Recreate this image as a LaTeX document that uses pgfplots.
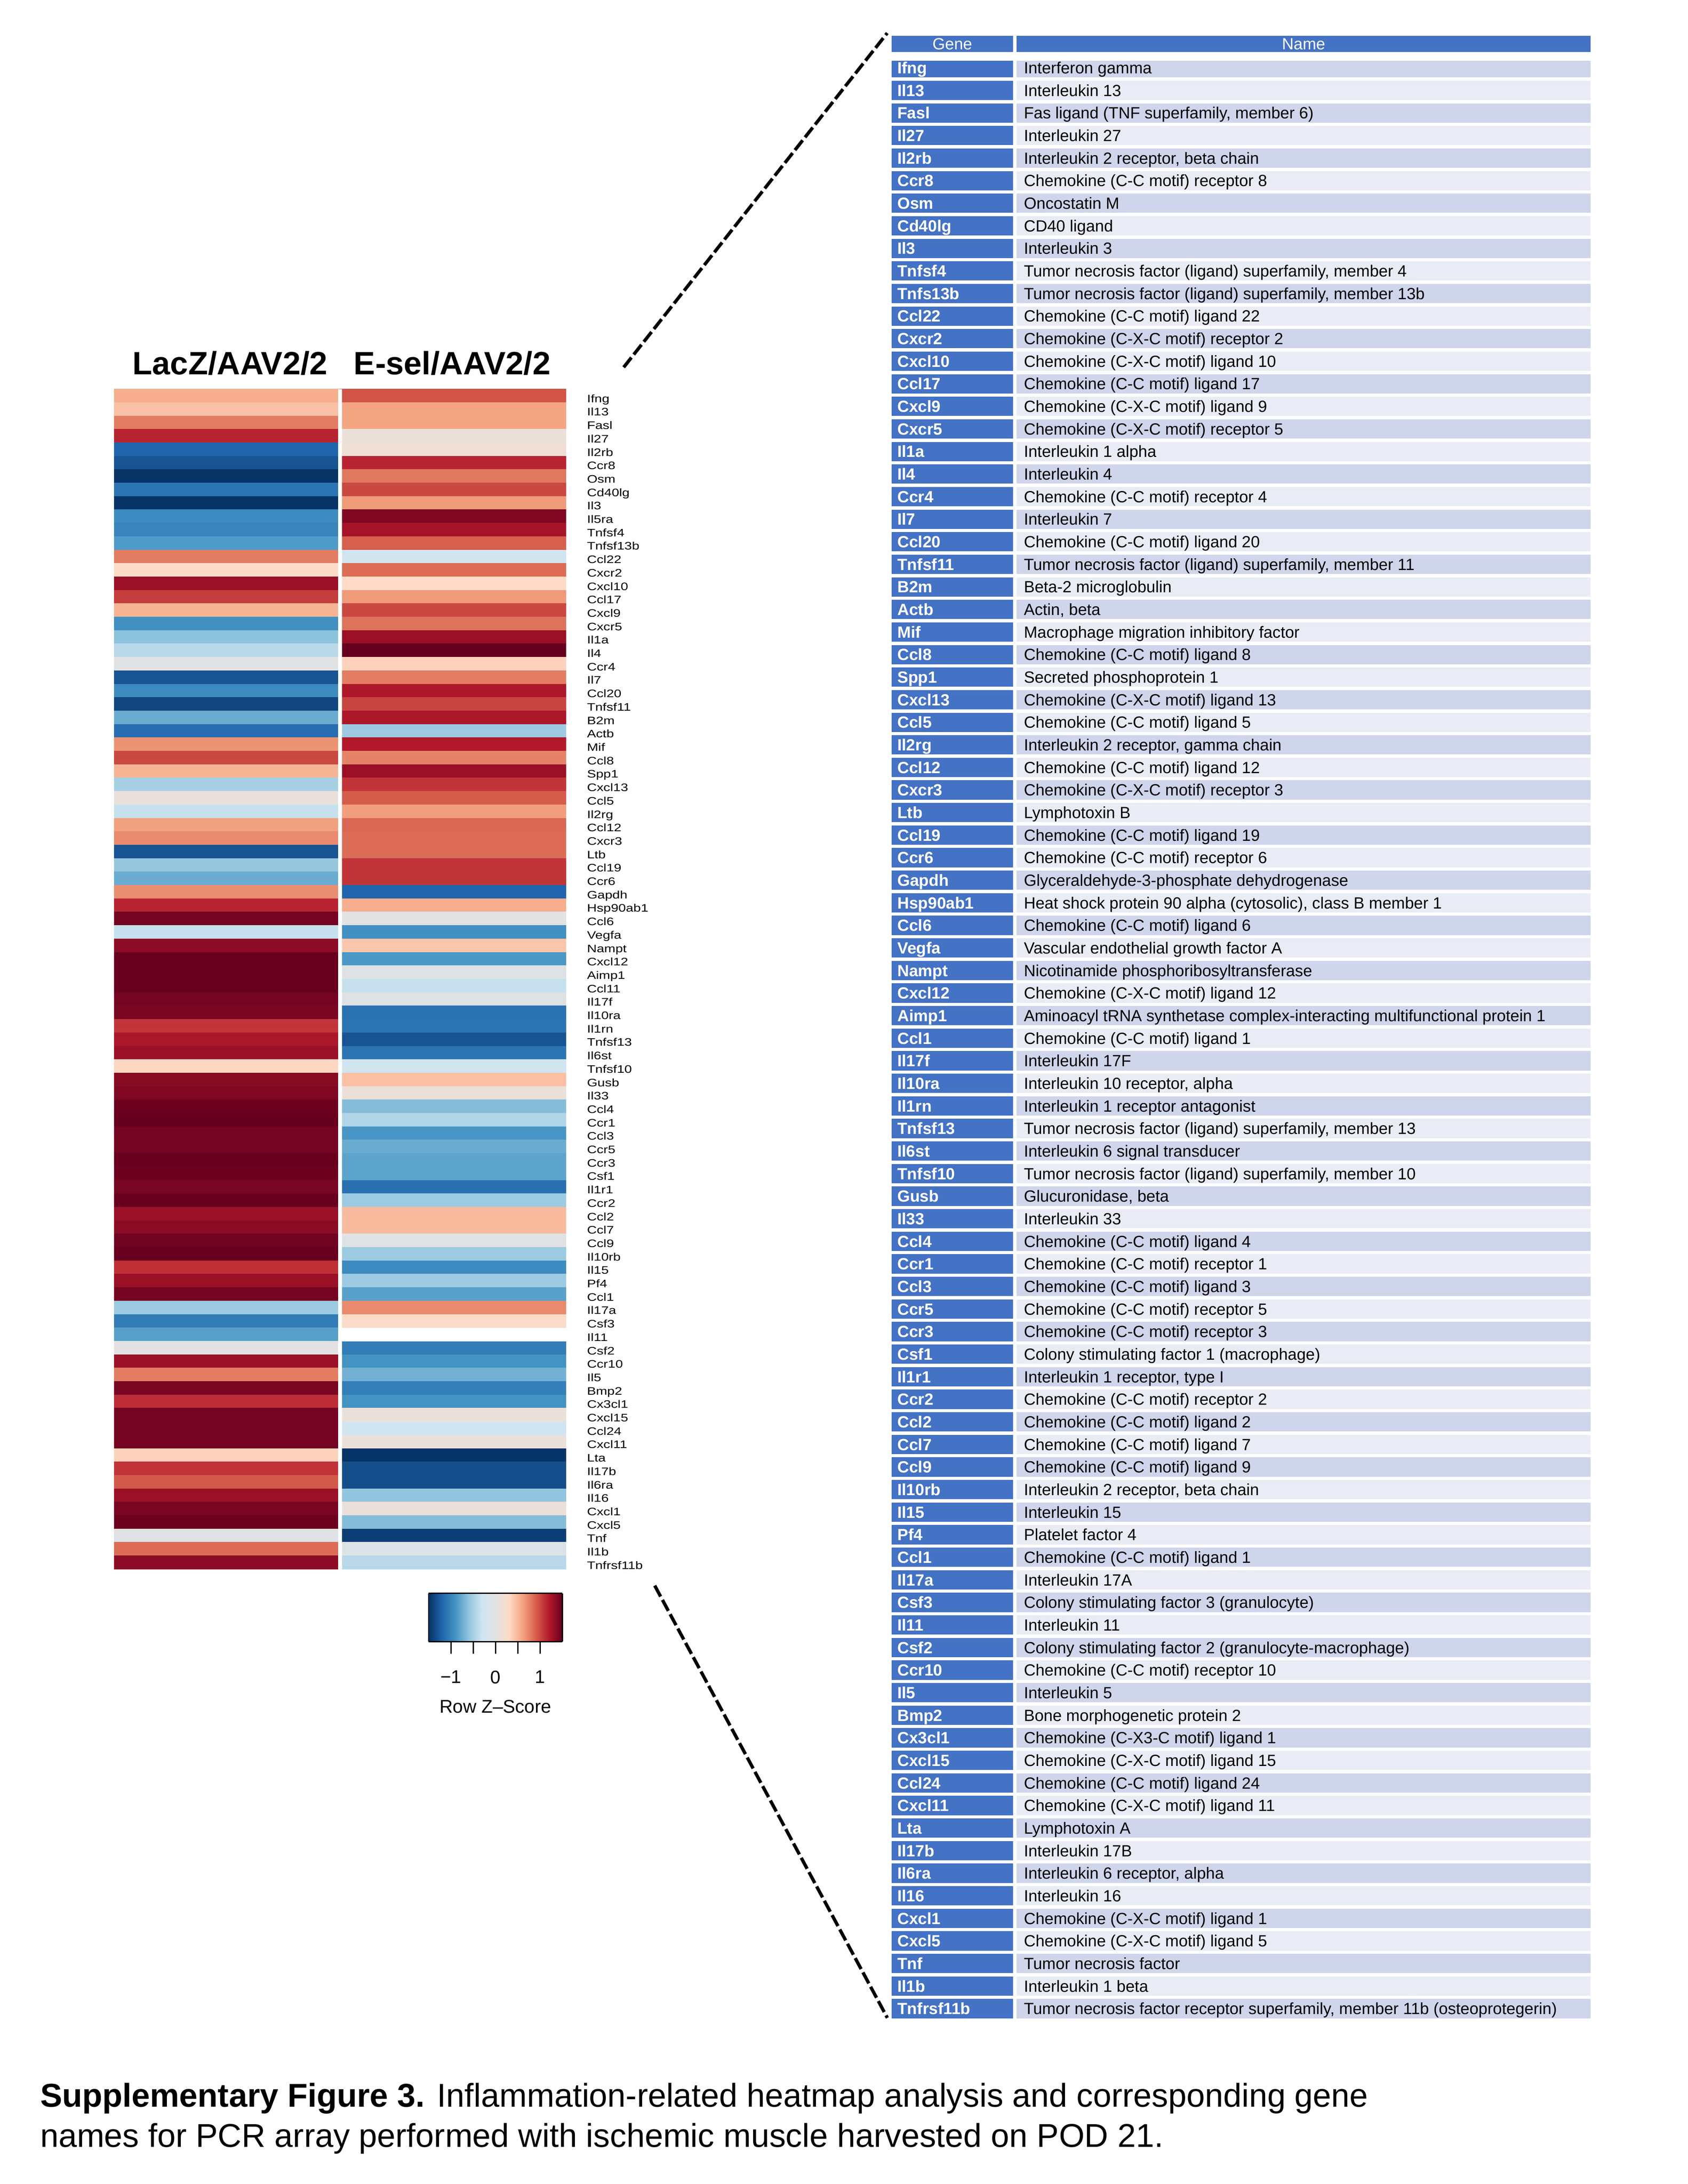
\documentclass[border=0pt]{standalone}
\usepackage{fontspec}
\setmainfont{Liberation Sans}
\newfontfamily\labfam[FakeStretch=1.24]{Liberation Sans}
\usepackage{pgfplots}
\pgfplotsset{compat=1.18}

\definecolor{genebl}{HTML}{4472C4}
\definecolor{rowa}{HTML}{CFD5EA}
\definecolor{rowb}{HTML}{E9EBF5}
\pgfplotsset{colormap={rdbu}{rgb255=(5,48,97) rgb255=(33,102,172) rgb255=(67,147,195)
  rgb255=(146,197,222) rgb255=(209,229,240) rgb255=(226,226,226) rgb255=(253,219,199)
  rgb255=(244,165,130) rgb255=(214,96,77) rgb255=(178,24,43) rgb255=(103,0,31)}}

\newcommand\fs[1]{\fontsize{#1}{#1}\selectfont}

% one row of the gene table: index, gene, name
\newcommand\trow[3]{%
  \pgfmathsetmacro\rt{ifthenelse(#1==1,44.2,58.6+(#1-2)*16.367)}%
  \pgfmathsetmacro\rb{58.6+(#1-2)*16.367+14}%
  \pgfmathsetmacro\rc{58.6+(#1-2)*16.367+7}%
  \pgfmathtruncatemacro\ro{mod(#1,2)}%
  \fill[genebl] (646.7,1584-\rt) rectangle (734.5,1584-\rb);
  \ifnum\ro=1 \fill[rowa] (737.1,1584-\rt) rectangle (1153.6,1584-\rb);
  \else \fill[rowb] (737.1,1584-\rt) rectangle (1153.6,1584-\rb); \fi
  \node[anchor=west, inner sep=0pt, text height=8.4bp, text depth=0pt, text=white,
        font=\bfseries\fs{11.8}] at (650.6,1584-\rc) {#2};
  \node[anchor=west, inner sep=0pt, text height=8.4bp, text depth=0pt,
        font=\fs{11.8}] at (742.3,1584-\rc) {#3};
}

\begin{document}
\begin{tikzpicture}[x=1bp, y=1bp]
\useasboundingbox (0,0) rectangle (1224,1584);
\coordinate (hmC) at (246.6,873.85);
\coordinate (keySW) at (310.8,393.4);

% column titles
\node[anchor=base, inner sep=0pt, font=\bfseries\fs{23.5}] at (166.9,1584-271.6) {LacZ/AAV2/2};
\node[anchor=base, inner sep=0pt, font=\bfseries\fs{23.5}] at (327.9,1584-271.6) {E-sel/AAV2/2};

% heatmap
\begin{axis}[
    at={(hmC)}, anchor=center,
    scale only axis, width=327.8bp, height=855.9bp,
    xmin=-0.5, xmax=1.5, ymin=0.5, ymax=88.5, y dir=reverse,
    axis line style={draw=none},
    xtick=\empty,
    ytick={1,...,88},
    yticklabels={Ifng,Il13,Fasl,Il27,Il2rb,Ccr8,Osm,Cd40lg,Il3,Il5ra,
      Tnfsf4,Tnfsf13b,Ccl22,Cxcr2,Cxcl10,Ccl17,Cxcl9,Cxcr5,Il1a,Il4,
      Ccr4,Il7,Ccl20,Tnfsf11,B2m,Actb,Mif,Ccl8,Spp1,Cxcl13,
      Ccl5,Il2rg,Ccl12,Cxcr3,Ltb,Ccl19,Ccr6,Gapdh,Hsp90ab1,Ccl6,
      Vegfa,Nampt,Cxcl12,Aimp1,Ccl11,Il17f,Il10ra,Il1rn,Tnfsf13,Il6st,
      Tnfsf10,Gusb,Il33,Ccl4,Ccr1,Ccl3,Ccr5,Ccr3,Csf1,Il1r1,
      Ccr2,Ccl2,Ccl7,Ccl9,Il10rb,Il15,Pf4,Ccl1,Il17a,Csf3,
      Il11,Csf2,Ccr10,Il5,Bmp2,Cx3cl1,Cxcl15,Ccl24,Cxcl11,Lta,
      Il17b,Il6ra,Il16,Cxcl1,Cxcl5,Tnf,Il1b,Tnfrsf11b},
    yticklabel pos=right,
    major tick length=0pt,
    yticklabel style={font=\labfam\fs{7.9}, anchor=west, inner sep=0pt,
      xshift=15bp, yshift=-2bp, text height=5.6bp, text depth=0pt},
    colormap name=rdbu, point meta min=-1.5, point meta max=1.5,
]
\addplot[matrix plot*, mesh/cols=2, point meta=explicit]
  table[row sep=\\, meta=c] {
x y c \\
0 1 0.55 \\ 1 1 0.95 \\
0 2 0.45 \\ 1 2 0.60 \\
0 3 0.78 \\ 1 3 0.60 \\
0 4 1.15 \\ 1 4 0.10 \\
0 5 -1.20 \\ 1 5 0.15 \\
0 6 -1.30 \\ 1 6 1.15 \\
0 7 -1.48 \\ 1 7 0.80 \\
0 8 -1.10 \\ 1 8 1.00 \\
0 9 -1.48 \\ 1 9 0.65 \\
0 10 -0.95 \\ 1 10 1.40 \\
0 11 -1.00 \\ 1 11 1.25 \\
0 12 -0.85 \\ 1 12 0.90 \\
0 13 0.78 \\ 1 13 -0.30 \\
0 14 0.30 \\ 1 14 0.85 \\
0 15 1.30 \\ 1 15 0.30 \\
0 16 1.05 \\ 1 16 0.65 \\
0 17 0.52 \\ 1 17 1.00 \\
0 18 -0.92 \\ 1 18 0.82 \\
0 19 -0.62 \\ 1 19 1.30 \\
0 20 -0.42 \\ 1 20 1.50 \\
0 21 -0.02 \\ 1 21 0.35 \\
0 22 -1.30 \\ 1 22 0.78 \\
0 23 -0.95 \\ 1 23 1.22 \\
0 24 -1.38 \\ 1 24 1.02 \\
0 25 -0.75 \\ 1 25 1.22 \\
0 26 -1.15 \\ 1 26 -0.55 \\
0 27 0.68 \\ 1 27 1.20 \\
0 28 1.00 \\ 1 28 0.75 \\
0 29 0.52 \\ 1 29 1.30 \\
0 30 -0.50 \\ 1 30 1.08 \\
0 31 0.08 \\ 1 31 0.92 \\
0 32 -0.35 \\ 1 32 0.63 \\
0 33 0.62 \\ 1 33 0.87 \\
0 34 0.72 \\ 1 34 0.85 \\
0 35 -1.30 \\ 1 35 0.85 \\
0 36 -0.58 \\ 1 36 1.08 \\
0 37 -0.75 \\ 1 37 1.08 \\
0 38 0.70 \\ 1 38 -1.20 \\
0 39 1.15 \\ 1 39 0.55 \\
0 40 1.45 \\ 1 40 0.00 \\
0 41 -0.35 \\ 1 41 -0.92 \\
0 42 1.35 \\ 1 42 0.42 \\
0 43 1.50 \\ 1 43 -0.87 \\
0 44 1.50 \\ 1 44 -0.05 \\
0 45 1.50 \\ 1 45 -0.35 \\
0 46 1.45 \\ 1 46 -0.05 \\
0 47 1.43 \\ 1 47 -1.12 \\
0 48 1.08 \\ 1 48 -1.10 \\
0 49 1.23 \\ 1 49 -1.30 \\
0 50 1.30 \\ 1 50 -1.10 \\
0 51 0.33 \\ 1 51 -0.30 \\
0 52 1.37 \\ 1 52 0.45 \\
0 53 1.40 \\ 1 53 0.10 \\
0 54 1.48 \\ 1 54 -0.65 \\
0 55 1.50 \\ 1 55 -0.45 \\
0 56 1.45 \\ 1 56 -0.88 \\
0 57 1.45 \\ 1 57 -0.75 \\
0 58 1.50 \\ 1 58 -0.80 \\
0 59 1.48 \\ 1 59 -0.80 \\
0 60 1.43 \\ 1 60 -1.13 \\
0 61 1.50 \\ 1 61 -0.55 \\
0 62 1.30 \\ 1 62 0.48 \\
0 63 1.35 \\ 1 63 0.48 \\
0 64 1.47 \\ 1 64 -0.05 \\
0 65 1.50 \\ 1 65 -0.55 \\
0 66 1.10 \\ 1 66 -0.95 \\
0 67 1.30 \\ 1 67 -0.55 \\
0 68 1.45 \\ 1 68 -0.82 \\
0 69 -0.55 \\ 1 69 0.72 \\
0 70 -1.05 \\ 1 70 0.28 \\
0 71 -0.82 \\ 1 71 0.00 \\
0 72 0.00 \\ 1 72 -1.05 \\
0 73 1.30 \\ 1 73 -0.90 \\
0 74 0.78 \\ 1 74 -0.72 \\
0 75 1.43 \\ 1 75 -1.03 \\
0 76 1.12 \\ 1 76 -0.90 \\
0 77 1.45 \\ 1 77 0.10 \\
0 78 1.45 \\ 1 78 -0.30 \\
0 79 1.45 \\ 1 79 0.10 \\
0 80 0.35 \\ 1 80 -1.48 \\
0 81 1.08 \\ 1 81 -1.33 \\
0 82 0.93 \\ 1 82 -1.33 \\
0 83 1.30 \\ 1 83 -0.60 \\
0 84 1.43 \\ 1 84 0.10 \\
0 85 1.48 \\ 1 85 -0.65 \\
0 86 -0.05 \\ 1 86 -1.42 \\
0 87 0.85 \\ 1 87 -0.10 \\
0 88 1.35 \\ 1 88 -0.42 \\
};
% Il11 has no value for E-sel/AAV2/2
\addplot[fill=white, draw=none] coordinates {(0.5,70.5) (1.5,70.5) (1.5,71.5) (0.5,71.5)} -- cycle;
% gap between the two sample columns
\draw[white, line width=2.8bp] (axis cs:0.5,0.5) -- (axis cs:0.5,88.5);
\end{axis}

% colour key
\begin{axis}[
    at={(keySW)}, anchor=south west,
    scale only axis, width=97bp, height=35bp,
    xmin=-1.5, xmax=1.5, ymin=0, ymax=1,
    view={0}{90},
    colormap name=rdbu, point meta min=-1.5, point meta max=1.5,
    xtick={-1,-0.5,0,0.5,1}, xticklabels={−1,,0,,1},
    xtick pos=left, ytick=\empty,
    tick align=outside, major tick length=8.9bp,
    every tick/.style={black, line width=0.9bp},
    axis line style={black, line width=0.9bp},
    xticklabel style={font=\fs{13.4}, inner sep=0pt, yshift=-12bp},
    axis on top,
]
\addplot3[surf, shader=interp, point meta=x, mesh/rows=2] coordinates {
  (-1.5,0,0) (-1.2,0,0) (-0.9,0,0) (-0.6,0,0) (-0.3,0,0) (0,0,0) (0.3,0,0) (0.6,0,0) (0.9,0,0) (1.2,0,0) (1.5,0,0)

  (-1.5,1,0) (-1.2,1,0) (-0.9,1,0) (-0.6,1,0) (-0.3,1,0) (0,1,0) (0.3,1,0) (0.6,1,0) (0.9,1,0) (1.2,1,0) (1.5,1,0)
};
\end{axis}
\node[anchor=base, inner sep=0pt, font=\fs{13.4}] at (359.3,1584-1242.4) {Row Z–Score};

% dashed connectors
\draw[line width=2.4bp, dash pattern=on 9bp off 2.8bp] (452.3,1584-266.4) -- (643.4,1584-24);
\draw[line width=2.4bp, dash pattern=on 9bp off 2.8bp] (474.8,1584-1150) -- (643.5,1584-1463.5);

% gene table
\fill[genebl] (646.7,1584-25.9) rectangle (734.5,1584-37.8);
\fill[genebl] (737.1,1584-25.9) rectangle (1153.6,1584-37.8);
\node[inner sep=0pt, text height=8.4bp, text depth=0pt, text=white, font=\fs{11.8}] at (690.6,1584-31.85) {Gene};
\node[inner sep=0pt, text height=8.4bp, text depth=0pt, text=white, font=\fs{11.8}] at (945.35,1584-31.85) {Name};

\trow{1}{Ifng}{Interferon gamma}
\trow{2}{Il13}{Interleukin 13}
\trow{3}{Fasl}{Fas ligand (TNF superfamily, member 6)}
\trow{4}{Il27}{Interleukin 27}
\trow{5}{Il2rb}{Interleukin 2 receptor, beta chain}
\trow{6}{Ccr8}{Chemokine (C-C motif) receptor 8}
\trow{7}{Osm}{Oncostatin M}
\trow{8}{Cd40lg}{CD40 ligand}
\trow{9}{Il3}{Interleukin 3}
\trow{10}{Tnfsf4}{Tumor necrosis factor (ligand) superfamily, member 4}
\trow{11}{Tnfs13b}{Tumor necrosis factor (ligand) superfamily, member 13b}
\trow{12}{Ccl22}{Chemokine (C-C motif) ligand 22}
\trow{13}{Cxcr2}{Chemokine (C-X-C motif) receptor 2}
\trow{14}{Cxcl10}{Chemokine (C-X-C motif) ligand 10}
\trow{15}{Ccl17}{Chemokine (C-C motif) ligand 17}
\trow{16}{Cxcl9}{Chemokine (C-X-C motif) ligand 9}
\trow{17}{Cxcr5}{Chemokine (C-X-C motif) receptor 5}
\trow{18}{Il1a}{Interleukin 1 alpha}
\trow{19}{Il4}{Interleukin 4}
\trow{20}{Ccr4}{Chemokine (C-C motif) receptor 4}
\trow{21}{Il7}{Interleukin 7}
\trow{22}{Ccl20}{Chemokine (C-C motif) ligand 20}
\trow{23}{Tnfsf11}{Tumor necrosis factor (ligand) superfamily, member 11}
\trow{24}{B2m}{Beta-2 microglobulin}
\trow{25}{Actb}{Actin, beta}
\trow{26}{Mif}{Macrophage migration inhibitory factor}
\trow{27}{Ccl8}{Chemokine (C-C motif) ligand 8}
\trow{28}{Spp1}{Secreted phosphoprotein 1}
\trow{29}{Cxcl13}{Chemokine (C-X-C motif) ligand 13}
\trow{30}{Ccl5}{Chemokine (C-C motif) ligand 5}
\trow{31}{Il2rg}{Interleukin 2 receptor, gamma chain}
\trow{32}{Ccl12}{Chemokine (C-C motif) ligand 12}
\trow{33}{Cxcr3}{Chemokine (C-X-C motif) receptor 3}
\trow{34}{Ltb}{Lymphotoxin B}
\trow{35}{Ccl19}{Chemokine (C-C motif) ligand 19}
\trow{36}{Ccr6}{Chemokine (C-C motif) receptor 6}
\trow{37}{Gapdh}{Glyceraldehyde-3-phosphate dehydrogenase}
\trow{38}{Hsp90ab1}{Heat shock protein 90 alpha (cytosolic), class B member 1}
\trow{39}{Ccl6}{Chemokine (C-C motif) ligand 6}
\trow{40}{Vegfa}{Vascular endothelial growth factor A}
\trow{41}{Nampt}{Nicotinamide phosphoribosyltransferase}
\trow{42}{Cxcl12}{Chemokine (C-X-C motif) ligand 12}
\trow{43}{Aimp1}{Aminoacyl tRNA synthetase complex-interacting multifunctional protein 1}
\trow{44}{Ccl1}{Chemokine (C-C motif) ligand 1}
\trow{45}{Il17f}{Interleukin 17F}
\trow{46}{Il10ra}{Interleukin 10 receptor, alpha}
\trow{47}{Il1rn}{Interleukin 1 receptor antagonist}
\trow{48}{Tnfsf13}{Tumor necrosis factor (ligand) superfamily, member 13}
\trow{49}{Il6st}{Interleukin 6 signal transducer}
\trow{50}{Tnfsf10}{Tumor necrosis factor (ligand) superfamily, member 10}
\trow{51}{Gusb}{Glucuronidase, beta}
\trow{52}{Il33}{Interleukin 33}
\trow{53}{Ccl4}{Chemokine (C-C motif) ligand 4}
\trow{54}{Ccr1}{Chemokine (C-C motif) receptor 1}
\trow{55}{Ccl3}{Chemokine (C-C motif) ligand 3}
\trow{56}{Ccr5}{Chemokine (C-C motif) receptor 5}
\trow{57}{Ccr3}{Chemokine (C-C motif) receptor 3}
\trow{58}{Csf1}{Colony stimulating factor 1 (macrophage)}
\trow{59}{Il1r1}{Interleukin 1 receptor, type I}
\trow{60}{Ccr2}{Chemokine (C-C motif) receptor 2}
\trow{61}{Ccl2}{Chemokine (C-C motif) ligand 2}
\trow{62}{Ccl7}{Chemokine (C-C motif) ligand 7}
\trow{63}{Ccl9}{Chemokine (C-C motif) ligand 9}
\trow{64}{Il10rb}{Interleukin 2 receptor, beta chain}
\trow{65}{Il15}{Interleukin 15}
\trow{66}{Pf4}{Platelet factor 4}
\trow{67}{Ccl1}{Chemokine (C-C motif) ligand 1}
\trow{68}{Il17a}{Interleukin 17A}
\trow{69}{Csf3}{Colony stimulating factor 3 (granulocyte)}
\trow{70}{Il11}{Interleukin 11}
\trow{71}{Csf2}{Colony stimulating factor 2 (granulocyte-macrophage)}
\trow{72}{Ccr10}{Chemokine (C-C motif) receptor 10}
\trow{73}{Il5}{Interleukin 5}
\trow{74}{Bmp2}{Bone morphogenetic protein 2}
\trow{75}{Cx3cl1}{Chemokine (C-X3-C motif) ligand 1}
\trow{76}{Cxcl15}{Chemokine (C-X-C motif) ligand 15}
\trow{77}{Ccl24}{Chemokine (C-C motif) ligand 24}
\trow{78}{Cxcl11}{Chemokine (C-X-C motif) ligand 11}
\trow{79}{Lta}{Lymphotoxin A}
\trow{80}{Il17b}{Interleukin 17B}
\trow{81}{Il6ra}{Interleukin 6 receptor, alpha}
\trow{82}{Il16}{Interleukin 16}
\trow{83}{Cxcl1}{Chemokine (C-X-C motif) ligand 1}
\trow{84}{Cxcl5}{Chemokine (C-X-C motif) ligand 5}
\trow{85}{Tnf}{Tumor necrosis factor}
\trow{86}{Il1b}{Interleukin 1 beta}
\trow{87}{Tnfrsf11b}{Tumor necrosis factor receptor superfamily, member 11b (osteoprotegerin)}

% caption
\node[anchor=base west, inner sep=0pt, font=\fs{24}] at (29,1584-1528)
  {\bfseries Supplementary Figure 3.\mdseries{} Inflammation-related heatmap analysis and corresponding gene};
\node[anchor=base west, inner sep=0pt, font=\fs{24}] at (29,1584-1557.2)
  {names for PCR array performed with ischemic muscle harvested on POD 21.};
\end{tikzpicture}
\end{document}
